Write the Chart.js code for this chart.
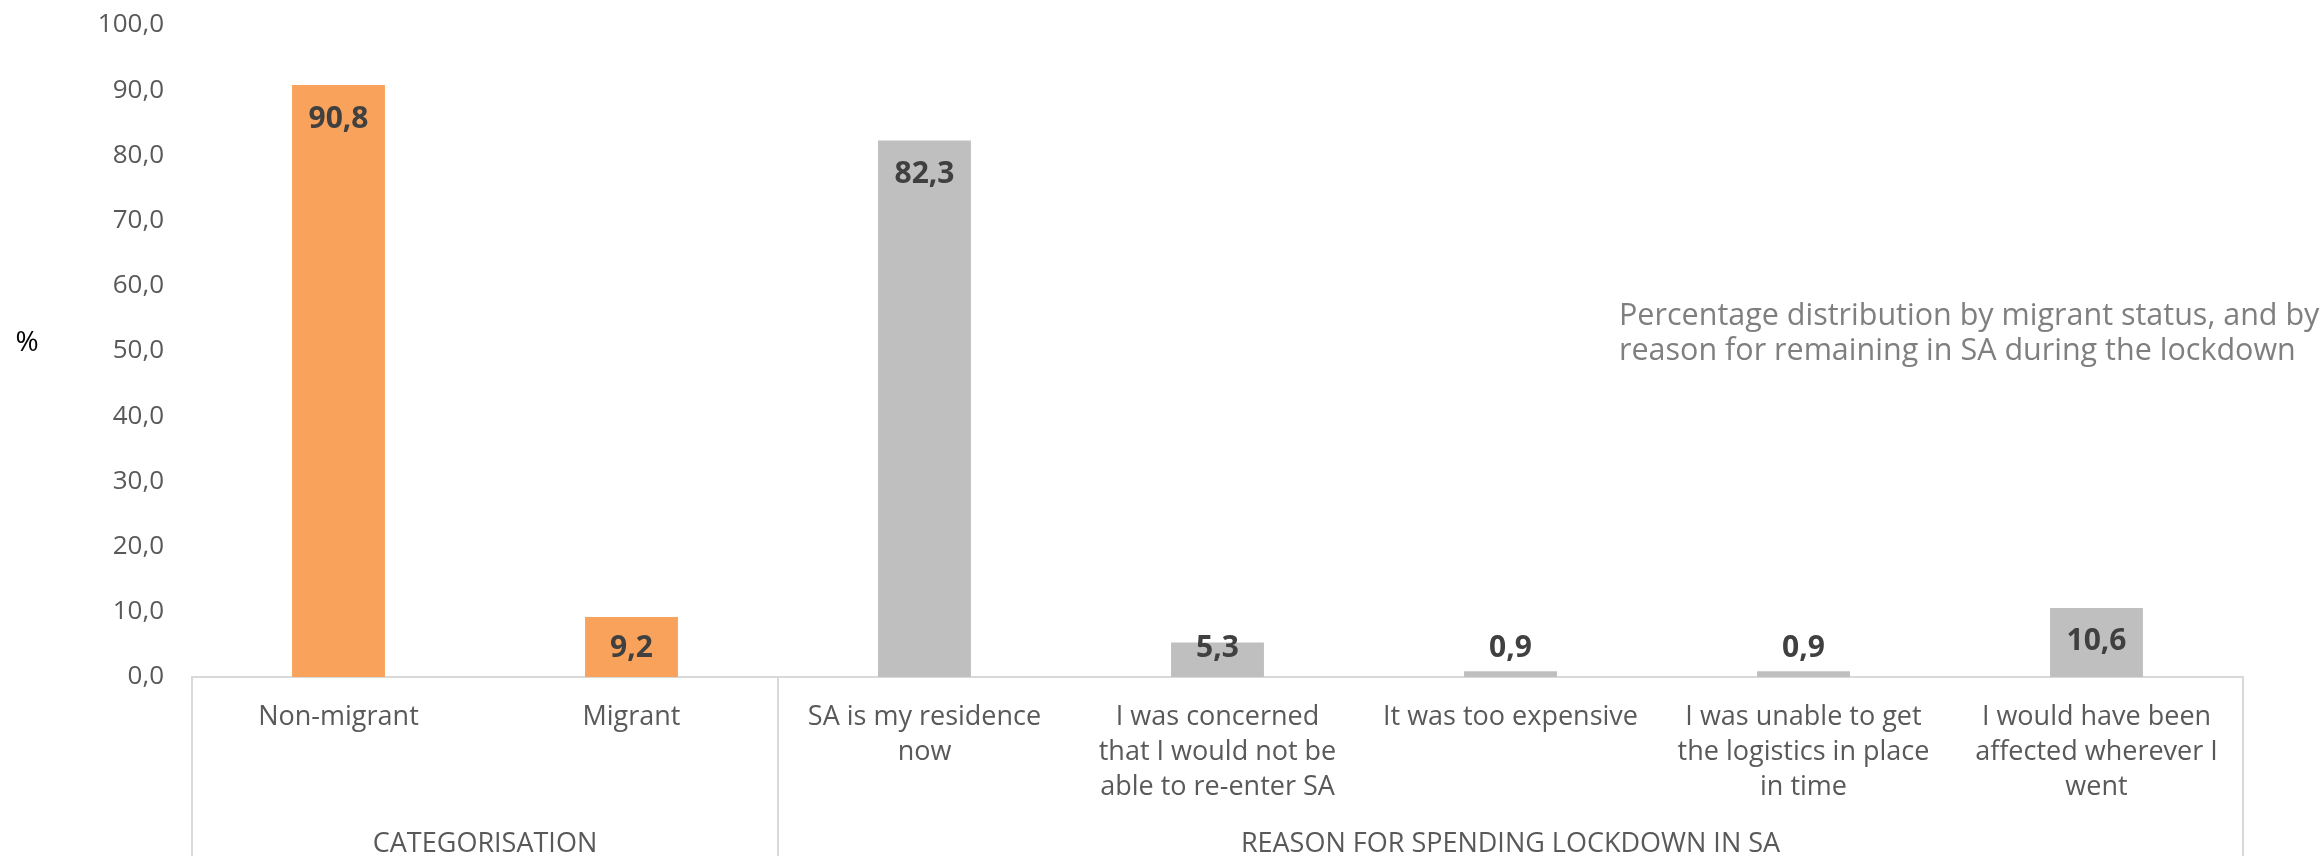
<!DOCTYPE html>
<html>
<head>
<meta charset="utf-8">
<script src="https://cdn.jsdelivr.net/npm/chart.js@4.4.1/dist/chart.umd.min.js"></script>
<style>
  html, body { margin: 0; padding: 0; background: #fff; }
  #wrap { width: 2323px; height: 856px; }
</style>
</head>
<body>
<div id="wrap"><canvas id="chart"></canvas></div>
<script>
const categories = [
  "Non-migrant",
  "Migrant",
  ["SA is my residence", "now"],
  ["I was concerned", "that I would not be", "able to re-enter SA"],
  "It was too expensive",
  ["I was unable to get", "the logistics in place", "in time"],
  ["I would have been", "affected wherever I", "went"]
];
const values = [90.8, 9.2, 82.3, 5.3, 0.9, 0.9, 10.6];
const groupOf = [0, 0, 1, 1, 1, 1, 1];
const groupNames = ["CATEGORISATION", "REASON FOR SPENDING LOCKDOWN IN SA"];
const groupColors = ["#F9A25B", "#BFBFBF"];
const noteLines = [
  "Percentage distribution by migrant status, and by",
  "reason for remaining in SA during the lockdown"
];
const yAxisTitle = "%";

const FONT = "'Open Sans', sans-serif";
const LABEL_GREY = "#595959";

// extra drawing: value labels, group row under the axis, "%" and the note
const extras = {
  id: "extras",
  afterDatasetsDraw(chart) {
    const ctx = chart.ctx;
    const area = chart.chartArea;
    const x = chart.scales.x;
    const meta = chart.getDatasetMeta(0);

    // value labels, inside end, kept inside the plot area
    ctx.save();
    ctx.font = "bold 30px " + FONT;
    ctx.fillStyle = "#404040";
    ctx.textAlign = "center";
    ctx.textBaseline = "middle";
    meta.data.forEach((bar, i) => {
      const y = Math.min(bar.y + 34, area.bottom - 29);
      ctx.fillText(values[i].toFixed(1).replace(".", ","), bar.x, y);
    });
    ctx.restore();

    // group separators and names
    const bounds = [area.left];
    for (let i = 1; i < groupOf.length; i++) {
      if (groupOf[i] !== groupOf[i - 1]) {
        bounds.push((x.getPixelForValue(i - 1) + x.getPixelForValue(i)) / 2);
      }
    }
    bounds.push(area.right);

    ctx.save();
    ctx.strokeStyle = "#D9D9D9";
    ctx.lineWidth = 2;
    bounds.forEach(b => {
      ctx.beginPath();
      ctx.moveTo(b, area.bottom);
      ctx.lineTo(b, chart.height);
      ctx.stroke();
    });
    ctx.font = "27px " + FONT;
    ctx.fillStyle = LABEL_GREY;
    ctx.textAlign = "center";
    ctx.textBaseline = "middle";
    groupNames.forEach((name, g) => {
      ctx.fillText(name, (bounds[g] + bounds[g + 1]) / 2, chart.height - 12);
    });

    // y axis title
    ctx.fillStyle = "#000000";
    ctx.font = "28px " + FONT;
    ctx.fillText(yAxisTitle, 27, (area.top + area.bottom) / 2 - 8);

    // note
    ctx.fillStyle = "#7F7F7F";
    ctx.font = "30.5px " + FONT;
    ctx.textAlign = "left";
    noteLines.forEach((line, i) => {
      ctx.fillText(line, 1619, 316 + i * 35);
    });
    ctx.restore();
  }
};

new Chart(document.getElementById("chart"), {
  type: "bar",
  data: {
    labels: categories,
    datasets: [{
      data: values,
      backgroundColor: groupOf.map(g => groupColors[g]),
      categoryPercentage: 1,
      barPercentage: 0.317
    }]
  },
  options: {
    responsive: true,
    maintainAspectRatio: false,
    animation: false,
    layout: { padding: { top: 25, right: 80, left: 0, bottom: 0 } },
    plugins: {
      legend: { display: false },
      tooltip: { enabled: false }
    },
    scales: {
      x: {
        offset: true,
        grid: { display: false },
        border: { display: true, color: "#D9D9D9", width: 2 },
        ticks: {
          color: LABEL_GREY,
          font: { family: FONT, size: 27, lineHeight: 1.3 },
          maxRotation: 0,
          autoSkip: false,
          padding: 15
        },
        afterFit(scale) { scale.height = 179; }
      },
      y: {
        min: 0,
        max: 100,
        grid: { display: false },
        border: { display: false },
        ticks: {
          stepSize: 10,
          color: LABEL_GREY,
          font: { family: FONT, size: 26 },
          padding: 20,
          callback: v => v.toFixed(1).replace(".", ",")
        },
        afterFit(scale) {
          scale.width = 192;
          scale.paddingTop = 0;
          scale.paddingBottom = 0;
        }
      }
    }
  },
  plugins: [extras]
});
</script>
</body>
</html>
